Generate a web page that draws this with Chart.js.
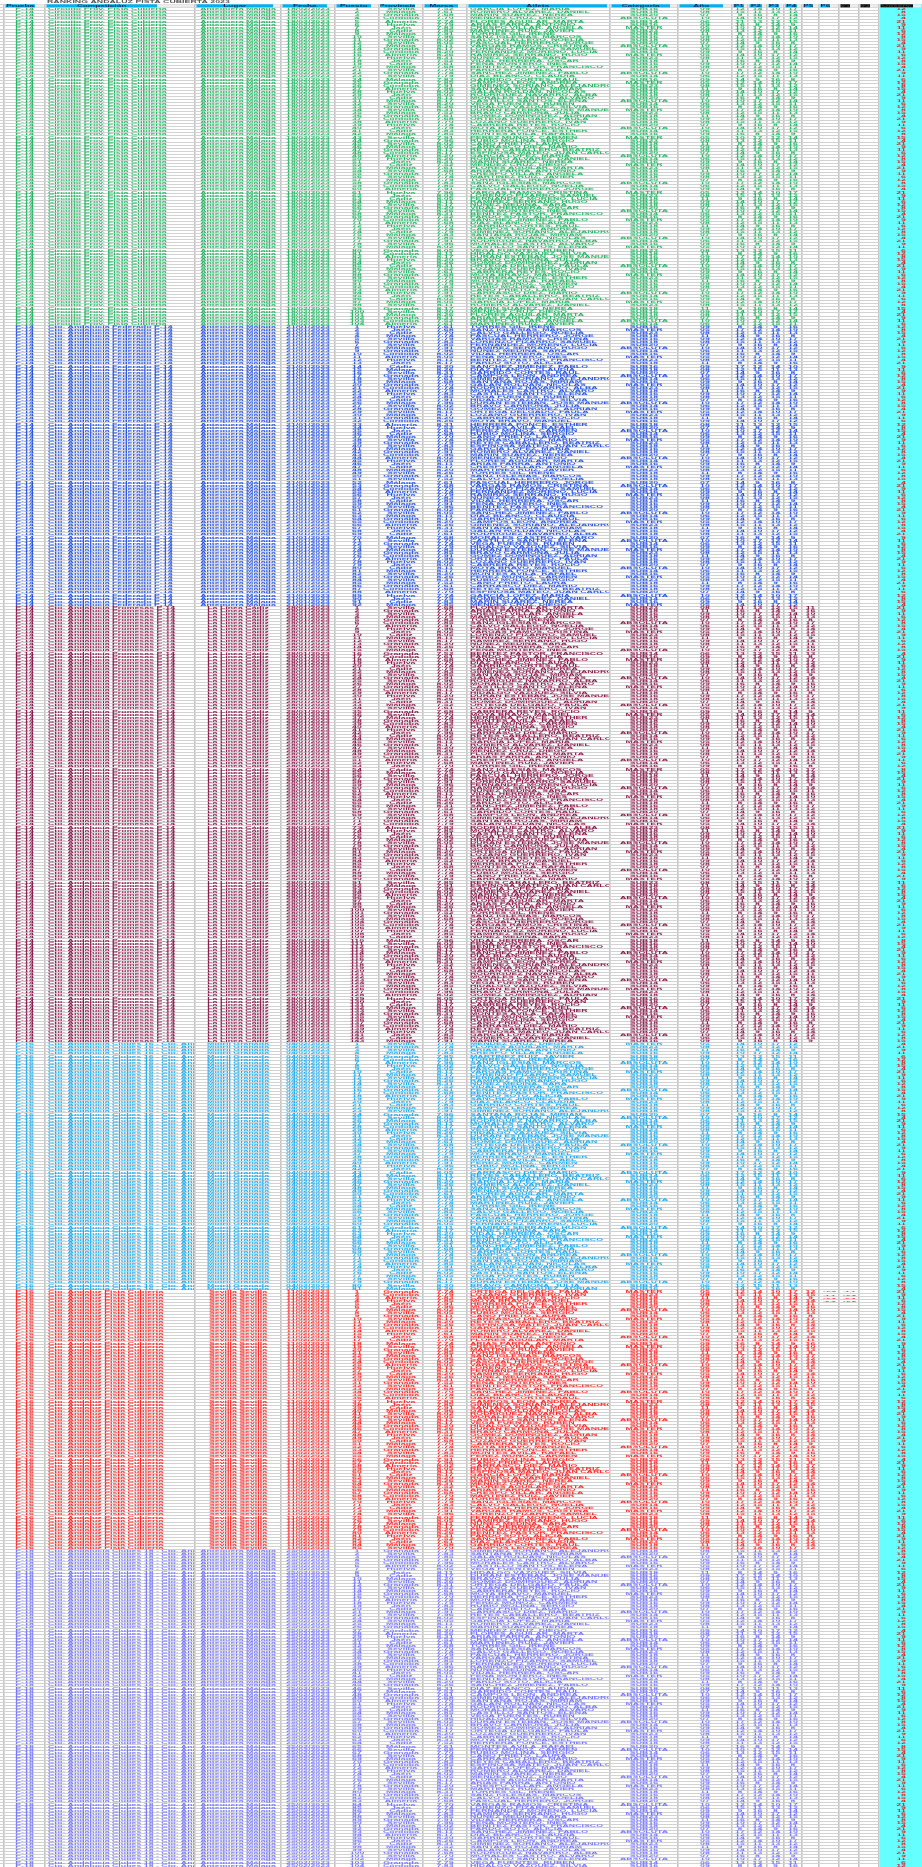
<!DOCTYPE html>
<html><head><meta charset="utf-8">
<script src="https://cdn.jsdelivr.net/npm/chart.js@4.4.0/dist/chart.umd.min.js"></script>
<style>html,body{margin:0;padding:0;background:#fff;overflow:hidden}#wrap{width:922px;height:1867px}</style>
</head><body><div id="wrap"><canvas id="c" width="922" height="1867"></canvas></div>
<script>
// ---------------- DATA ----------------
const title = "RANKING ANDALUZ PISTA CUBIERTA 2023";
const headers = ["Prueba","Competición","Lugar","Fecha","Puesto","Provincia","Marca","Atleta","Categoría","Año","P1","P2","P3","P4","P5","P6","V1","V2","Observ."];
const groupEvents = ["P-14","P-14","P-14","P-16","P-16","P-18"];
const groupCompetitions = [
  "Circuito Prov. Pista Cubierta",
  "Cto. Andalucía Federado P-14",
  "Cto. Andalucía Promesas P-14",
  "Cto. Andalucía Clubes 16 - Cto. Andaluz",
  "Cto. Andaluz Pista Cubierta",
  "Cto. Andalucía Clubes 18 - Cto. Andaluz"
];
const groupVenues = ["Antequera Málaga","Antequera Málaga","La Línea Cádiz","Motril Granada","Sevilla Sevilla","Antequera Málaga"];
const groupDates = ["18/02/2023","21/01/2023","28/01/2023","04/02/2023","11/02/2023","25/02/2023"];
const groupRowCounts = [104, 92, 143, 81, 85, 104];
const groupScoreCols = [4, 4, 5, 4, 5, 4];
const groupExtraRows = [0, 0, 0, 0, 4, 0];
const athletes = [
 "GARCÍA LÓPEZ, MARÍA","MARTÍNEZ RUIZ, JAVIER","FERNÁNDEZ MORENO, LUCÍA","SÁNCHEZ JIMÉNEZ, PABLO",
 "RODRÍGUEZ NAVARRO, ALBA","GÓMEZ DOMÍNGUEZ, ADRIÁN","PÉREZ MUÑOZ, CARMEN","ROMERO ÁLVAREZ, DANIEL",
 "TORRES GIL, IRENE","RAMÍREZ SERRANO, HUGO","DÍAZ BLANCO, CLAUDIA","MORALES CASTRO, ÁLVARO",
 "ORTEGA DELGADO, PAULA","RUBIO MOLINA, SERGIO","MARÍN SUÁREZ, NEREA","SANZ IGLESIAS, MARCOS",
 "NÚÑEZ MEDINA, SARA","GARRIDO CORTÉS, RAÚL","CASTILLO SANTOS, ELENA","LOZANO GUERRERO, IVÁN",
 "CANO PRIETO, LAURA","MÉNDEZ CRUZ, DIEGO","CALVO GALLEGO, NOELIA","VIDAL HERRERA, ÓSCAR",
 "CAMPOS LEÓN, ANDREA","VEGA FUENTES, RUBÉN","CABRERA REYES, ROCÍO","CARRASCO DIEZ, MARIO",
 "FLORES AGUILAR, MARTA","PASCUAL HERRERO, JORGE","PEÑA MONTERO, INÉS","GIMÉNEZ SORIANO, ALEJANDRO",
 "HIDALGO VÁZQUEZ, SILVIA","MOYA BRAVO, MANUEL","REYES CABALLERO, BEATRIZ","ARIAS PARRA, ANTONIO",
 "VARGAS RAMOS, CRISTINA","BENÍTEZ PASTOR, FRANCISCO","SANTANA ROJAS, MIRIAM","DURÁN ESTEBAN, JOSÉ MANUEL",
 "HERRERA PONCE, ESTHER","ESPINOSA MATEO, JUAN CARLOS","CRESPO VILLAR, ÁNGELA","LORENZO PIZARRO, SAMUEL",
 "PARDO SOTO, ALICIA","GALÁN ROLDÁN, NICOLÁS","BRAVO CARMONA, JULIA","MONTES ÁVILA, RAFAEL"
];
const provinces = ["Sevilla","Málaga","Granada","Córdoba","Almería","Huelva","Jaén","Cádiz","Málaga","Sevilla","Granada"];
const marks = ["7.52","7.61","7.68","7.70","7.74","7.79","7.83","7.85","7.91","7.96","8.02","8.05","8.11","8.17","8.20","8.26","8.31"];
const categories = ["SUB16","SUB18","SUB20","ABSOLUTA","SUB14","SUB16","MÁSTER","SUB23","SUB18"];
const years = ["09","08","07","10","06","09","05","08","11"];
const scores = ["12","15","9","14","11","16","10","13","8","17","12","14"];
const extras = ["-0,3","+0,5","-1,1","+0,2"];
const notes = ["12","8","15","4","21","9","11","6"];

// ---------------- LAYOUT / STYLE ----------------
const colEdges = [4, 45, 195, 281, 335, 379, 423, 467, 610, 678, 732, 748, 767, 784, 802, 819, 839, 859, 879, 922];
const colAlign = ["center","left","center","center","center","center","center","left","center","center","center","center","center","center","center","center","center","center","right"];
const headerFillEnd = [35, 157, 273, 327, 371, 415, 458, 607, 670, 723, 744, 762, 779, 797, 813, 830, 850, 870, 913];
const headerDark = [false,false,false,false,false,false,false,false,false,false,false,false,false,false,false,false,true,true,true];
const groupColors = ["#27b866","#2b57e4","#8c1c4e","#21adef","#ff2b2b","#7878ff"];
const BASE = 20;
const TEXT_H = 3.0;
const DATE_W = 44;   // rendered width of a date string in the reference
let SX = 2;

const N = groupRowCounts.reduce((a,b)=>a+b,0);
const rowEdges = [];
for (let i = -1; i <= N; i++) rowEdges.push({value: i});

function txt(ctx, s, x, y, align, color, size) {
  const k = (size || TEXT_H) / BASE;
  ctx.save(); ctx.translate(x, y); ctx.scale(SX * k, k);
  ctx.font = "bold " + BASE + "px 'Liberation Sans', Arial, sans-serif";
  ctx.textAlign = align; ctx.textBaseline = 'middle';
  ctx.fillStyle = color; ctx.fillText(s, 0, 0); ctx.restore();
}

const tablePlugin = {
  id: 'table',
  beforeDatasetsDraw(chart) {
    const {ctx} = chart; const xs = chart.scales.x, ys = chart.scales.y;
    ctx.save();
    ctx.font = "bold " + BASE + "px 'Liberation Sans', Arial, sans-serif";
    SX = DATE_W / (ctx.measureText(groupDates[0]).width * TEXT_H / BASE);
    ctx.restore();
    const yTop = ys.getPixelForValue(-1.2), yH = ys.getPixelForValue(0);
    ctx.fillStyle = '#66ffff';
    ctx.fillRect(xs.getPixelForValue(colEdges[18]) + 1, yTop, xs.getPixelForValue(colEdges[19]) - xs.getPixelForValue(colEdges[18]), ys.getPixelForValue(N) - yTop);
    for (let c = 0; c < headers.length; c++) {
      const x0 = xs.getPixelForValue(colEdges[c]) + 1.5;
      const x1 = xs.getPixelForValue(headerFillEnd[c]);
      const xe = xs.getPixelForValue(colEdges[c+1]) - 1;
      ctx.fillStyle = '#ececec';
      ctx.fillRect(x0, yTop + 0.3, xe - x0, yH - yTop - 0.6);
      ctx.fillStyle = headerDark[c] ? '#0a0a0a' : '#00b0f0';
      ctx.fillRect(x0, yTop + 0.3, x1 - x0, yH - yTop - 0.6);
      ctx.save(); ctx.beginPath(); ctx.rect(x0, yTop, x1 - x0, yH - yTop); ctx.clip();
      txt(ctx, headers[c], (x0 + x1) / 2, (yTop + yH) / 2 + 0.2, 'center', headerDark[c] ? '#3a3a3a' : '#1b2b55', 2.8);
      ctx.restore();
    }
  },
  afterDatasetsDraw(chart) {
    const {ctx} = chart; const xs = chart.scales.x, ys = chart.scales.y;
    txt(ctx, title, xs.getPixelForValue(47), ys.getPixelForValue(-1.2) - 2, 'left', '#555', 3.0);
    let r = 0;
    for (let g = 0; g < groupRowCounts.length; g++) {
      for (let k = 0; k < groupRowCounts[g]; k++, r++) {
        const yc = ys.getPixelForValue(r + 0.5);
        const y0 = ys.getPixelForValue(r), y1 = ys.getPixelForValue(r + 1);
        const col = groupColors[g];
        const cells = [
          groupEvents[g], groupCompetitions[g], groupVenues[g], groupDates[g], String(k + 1),
          provinces[r % provinces.length], marks[(k + g) % marks.length], athletes[(r * 7) % athletes.length],
          categories[r % categories.length], years[r % years.length]
        ];
        for (let s = 0; s < 8; s++) {
          if (s < groupScoreCols[g]) cells.push(scores[(r + s * 3) % scores.length]);
          else if (s >= 5 && s <= 6 && k < groupExtraRows[g]) cells.push(extras[(k + s) % extras.length]);
          else cells.push("");
        }
        cells.push(notes[r % notes.length]);
        for (let c = 0; c < cells.length; c++) {
          if (!cells[c]) continue;
          const a = colAlign[c];
          const xl = xs.getPixelForValue(colEdges[c]), xr = xs.getPixelForValue(colEdges[c+1]);
          let x;
          if (a === 'left') x = xl + 3;
          else if (a === 'right') x = xr - 16;
          else x = (xl + xr) / 2;
          ctx.save(); ctx.beginPath(); ctx.rect(xl + 1, y0, xr - xl - 2, y1 - y0); ctx.clip();
          txt(ctx, cells[c], x, yc + 0.3, a, c === 18 ? '#e0282c' : col, c >= 15 && c <= 17 ? 2.4 : TEXT_H);
          ctx.restore();
        }
      }
    }
  }
};

new Chart(document.getElementById('c'), {
  type: 'scatter',
  data: { datasets: [{ data: [], pointRadius: 0 }] },
  options: {
    responsive: false, animation: false, devicePixelRatio: 1,
    layout: { padding: { top: 4, left: 0, right: 0, bottom: 0 } },
    plugins: { legend: { display: false }, tooltip: { enabled: false }, title: { display: false } },
    scales: {
      x: {
        type: 'linear', min: 0, max: 922, position: 'top',
        afterBuildTicks: s => { s.ticks = colEdges.map(v => ({ value: v })); },
        grid: { color: '#c4c4c4', lineWidth: 1.6, drawTicks: false },
        ticks: { display: false }, border: { display: false }
      },
      y: {
        type: 'linear', reverse: true, min: -1.2, max: N,
        afterBuildTicks: s => { s.ticks = rowEdges.slice(); },
        grid: { color: '#d2d2d2', lineWidth: 1, drawTicks: false },
        ticks: { display: false }, border: { display: false }
      }
    }
  },
  plugins: [tablePlugin]
});
</script>
</body></html>
